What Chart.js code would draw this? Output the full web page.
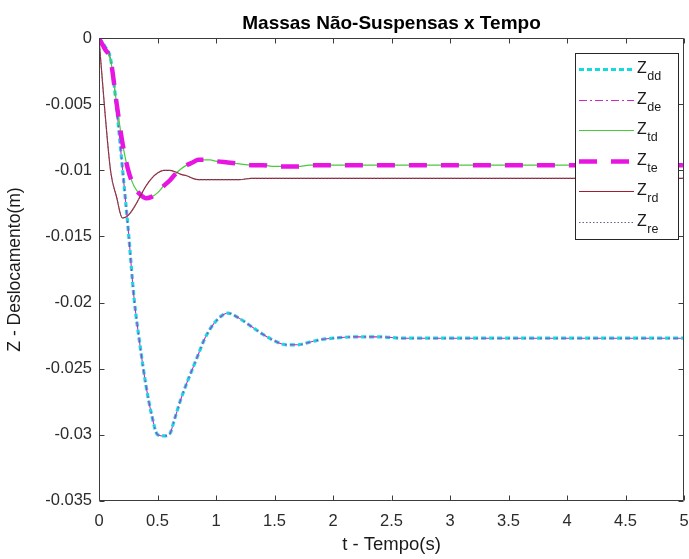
<!DOCTYPE html>
<html><head><meta charset="utf-8">
<script src="https://cdn.jsdelivr.net/npm/chart.js@4.4.1/dist/chart.umd.min.js"></script>
<style>html,body{margin:0;padding:0;background:#fff}canvas{display:block}</style>
</head><body>
<canvas id="c" width="689" height="559"></canvas>
<script>
// ---- text ----
const chartTitle = 'Massas Não-Suspensas x Tempo';
const xAxisLabel = 't - Tempo(s)';
const yAxisLabel = 'Z - Deslocamento(m)';
const legendMain = 'Z';
const legendSubs = ['dd', 'de', 'td', 'te', 'rd', 're'];

// ---- data ----
const time = [0, 0.05, 0.1, 0.15, 0.2, 0.25, 0.3, 0.35, 0.4, 0.45, 0.5, 0.55, 0.6, 0.65, 0.7, 0.75, 0.8, 0.85, 0.9, 0.95, 1.0,
  1.1, 1.2, 1.3, 1.4, 1.5, 1.6, 1.7, 1.8, 1.9, 2.0, 2.2, 2.4, 2.6, 2.8, 3.0, 3.5, 4.0, 4.5, 5.0];
const zdd = [0, -0.0006, -0.0016, -0.0052, -0.0098, -0.0145, -0.0197, -0.0232, -0.0262, -0.0285, -0.0300, -0.0301, -0.0300, -0.0287, -0.0273, -0.0261, -0.0250, -0.0239, -0.0228, -0.0220, -0.0214,
  -0.0208, -0.0212, -0.0218, -0.0224, -0.0229, -0.0232, -0.0232, -0.0230, -0.0228, -0.0227, -0.0226, -0.0226, -0.0227, -0.0227, -0.0227, -0.0227, -0.0227, -0.0227, -0.0227];
const zde = [0, -0.0006, -0.0016, -0.0052, -0.0098, -0.0145, -0.0197, -0.0232, -0.0262, -0.0285, -0.0300, -0.0301, -0.0300, -0.0287, -0.0273, -0.0261, -0.0250, -0.0239, -0.0228, -0.0220, -0.0214,
  -0.0208, -0.0212, -0.0218, -0.0224, -0.0229, -0.0232, -0.0232, -0.0230, -0.0228, -0.0227, -0.0226, -0.0226, -0.0227, -0.0227, -0.0227, -0.0227, -0.0227, -0.0227, -0.0227];
const ztd = [0, -0.0008, -0.0017, -0.0049, -0.0079, -0.0100, -0.0112, -0.0118, -0.0121, -0.0120, -0.0117, -0.0112, -0.0108, -0.0103, -0.0099, -0.0096, -0.0094, -0.0092, -0.0092, -0.0092, -0.0093,
  -0.0094, -0.0095, -0.0096, -0.0096, -0.0097, -0.0097, -0.0097, -0.0096, -0.0096, -0.0096, -0.0096, -0.0096, -0.0096, -0.0096, -0.0096, -0.0096, -0.0096, -0.0096, -0.0096];
const zte = [0, -0.0008, -0.0017, -0.0049, -0.0079, -0.0100, -0.0112, -0.0118, -0.0121, -0.0120, -0.0117, -0.0112, -0.0108, -0.0103, -0.0099, -0.0096, -0.0094, -0.0092, -0.0092, -0.0092, -0.0093,
  -0.0094, -0.0095, -0.0096, -0.0096, -0.0097, -0.0097, -0.0097, -0.0096, -0.0096, -0.0096, -0.0096, -0.0096, -0.0096, -0.0096, -0.0096, -0.0096, -0.0096, -0.0096, -0.0096];
const zrd = [0, -0.0055, -0.0101, -0.0120, -0.0136, -0.0134, -0.0128, -0.0120, -0.0112, -0.0106, -0.0102, -0.0100, -0.0100, -0.0101, -0.0103, -0.0104, -0.0106, -0.0107, -0.0107, -0.0107, -0.0107,
  -0.0107, -0.0107, -0.0106, -0.0106, -0.0106, -0.0106, -0.0106, -0.0106, -0.0106, -0.0106, -0.0106, -0.0106, -0.0106, -0.0106, -0.0106, -0.0106, -0.0106, -0.0106, -0.0106];
const zre = [0, -0.0055, -0.0101, -0.0120, -0.0136, -0.0134, -0.0128, -0.0120, -0.0112, -0.0106, -0.0102, -0.0100, -0.0100, -0.0101, -0.0103, -0.0104, -0.0106, -0.0107, -0.0107, -0.0107, -0.0107,
  -0.0107, -0.0107, -0.0106, -0.0106, -0.0106, -0.0106, -0.0106, -0.0106, -0.0106, -0.0106, -0.0106, -0.0106, -0.0106, -0.0106, -0.0106, -0.0106, -0.0106, -0.0106, -0.0106];

// ---- ticks ----
const xTickValues = [0, 0.5, 1, 1.5, 2, 2.5, 3, 3.5, 4, 4.5, 5];
const xTickLabels = ['0', '0.5', '1', '1.5', '2', '2.5', '3', '3.5', '4', '4.5', '5'];
const yTickValues = [0, -0.005, -0.01, -0.015, -0.02, -0.025, -0.03, -0.035];
const yTickLabels = ['0', '-0.005', '-0.01', '-0.015', '-0.02', '-0.025', '-0.03', '-0.035'];

const FONT = "'Liberation Sans', Arial, Helvetica, sans-serif";
const pts = arr => time.map((t, i) => ({ x: t, y: arr[i] }));

const styles = [
  { color: 'rgb(20,218,224)', width: 3.2, dash: [5, 3] },
  { color: 'rgb(200,40,200)', width: 1.1, dash: [8, 3, 2, 3] },
  { color: 'rgb(70,205,60)', width: 1.2, dash: [] },
  { color: 'rgb(232,20,226)', width: 4.5, dash: [18, 14] },
  { color: 'rgb(160,30,45)', width: 1.2, dash: [] },
  { color: 'rgb(100,100,130)', width: 1, dash: [1.5, 2] }
];
const seriesData = [zdd, zde, ztd, zte, zrd, zre];

const datasets = seriesData.map((arr, i) => ({
  label: legendMain + legendSubs[i],
  data: pts(arr),
  borderColor: styles[i].color,
  borderWidth: styles[i].width,
  borderDash: styles[i].dash,
  borderCapStyle: 'butt',
  pointRadius: 0,
  fill: false,
  cubicInterpolationMode: 'monotone',
  order: -i
}));

const axesBox = {
  id: 'axesBox',
  afterDatasetsDraw(chart) {
    const { ctx, chartArea: a, scales: { x, y } } = chart;
    ctx.save();
    ctx.strokeStyle = '#3c3c3c';
    ctx.lineWidth = 1;
    ctx.setLineDash([]);
    const L = Math.round(a.left) + 0.5, R = Math.round(a.right) - 0.5;
    const T = Math.round(a.top) + 0.5, B = Math.round(a.bottom) - 0.5;
    ctx.beginPath();
    ctx.rect(L, T, R - L, B - T);
    const tl = 5;
    x.ticks.forEach(t => {
      const px = Math.round(x.getPixelForValue(t.value)) + 0.5;
      ctx.moveTo(px, B); ctx.lineTo(px, B - tl);
      ctx.moveTo(px, T); ctx.lineTo(px, T + tl);
    });
    y.ticks.forEach(t => {
      const py = Math.round(y.getPixelForValue(t.value)) + 0.5;
      ctx.moveTo(L, py); ctx.lineTo(L + tl, py);
      ctx.moveTo(R, py); ctx.lineTo(R - tl, py);
    });
    ctx.stroke();
    ctx.restore();
  }
};

const legendBox = {
  id: 'legendBox',
  afterDraw(chart) {
    const { ctx, chartArea: a } = chart;
    const w = 103, h = 186;
    const right = Math.round(a.right) - 6, left = right - w, top = Math.round(a.top) + 15;
    ctx.save();
    ctx.fillStyle = '#fff';
    ctx.fillRect(left, top, w, h);
    ctx.strokeStyle = '#262626';
    ctx.lineWidth = 1;
    ctx.setLineDash([]);
    ctx.strokeRect(left + 0.5, top + 0.5, w, h);
    chart.data.datasets.forEach((ds, i) => {
      const yy = Math.round(top + 16 + i * 30.5) + 0.5;
      ctx.save();
      ctx.beginPath();
      ctx.strokeStyle = ds.borderColor;
      ctx.lineWidth = ds.borderWidth;
      ctx.lineCap = 'butt';
      ctx.setLineDash(ds.borderDash || []);
      ctx.moveTo(left + 4, yy);
      ctx.lineTo(left + 59, yy);
      ctx.stroke();
      ctx.restore();
      ctx.fillStyle = '#1a1a1a';
      ctx.textBaseline = 'middle';
      ctx.textAlign = 'left';
      ctx.font = '16px ' + FONT;
      ctx.fillText(legendMain, left + 62, yy - 1);
      const zw = ctx.measureText(legendMain).width;
      ctx.font = '12.5px ' + FONT;
      ctx.fillText(legendSubs[i], left + 62 + zw + 0.5, yy + 7);
    });
    ctx.restore();
  }
};

const noSidePad = s => { s.paddingLeft = 0; s.paddingRight = 0; };

new Chart(document.getElementById('c'), {
  type: 'line',
  data: { datasets },
  plugins: [axesBox, legendBox],
  options: {
    responsive: false,
    animation: false,
    events: [],
    layout: { padding: { left: 0, right: 5, top: 0, bottom: 0 } },
    plugins: { legend: { display: false }, tooltip: { enabled: false }, title: { display: false } },
    scales: {
      x: {
        type: 'linear', position: 'bottom', min: 0, max: 5,
        grid: { display: false, drawTicks: false },
        border: { display: false },
        afterBuildTicks: s => { s.ticks = xTickValues.map(v => ({ value: v })); },
        ticks: {
          autoSkip: false, maxRotation: 0, padding: 11, color: '#2b2b2b',
          font: { size: 16.5, family: FONT },
          callback: v => xTickLabels[xTickValues.indexOf(v)]
        },
        title: { display: true, text: xAxisLabel, color: '#1a1a1a', font: { size: 18.5, family: FONT }, padding: { top: 0, bottom: 3 } },
        afterFit: s => { s.height = 58.3; noSidePad(s); }
      },
      x2: {
        type: 'linear', position: 'top', min: 0, max: 5,
        grid: { display: false, drawTicks: false },
        border: { display: false },
        ticks: { display: false },
        title: { display: true, text: chartTitle, color: '#000', font: { size: 19, weight: 'bold', family: FONT }, padding: { top: 12, bottom: 0 } },
        afterFit: s => { s.height = 38.3; noSidePad(s); }
      },
      y: {
        type: 'linear', position: 'left', min: -0.035, max: 0,
        grid: { display: false, drawTicks: false },
        border: { display: false },
        afterBuildTicks: s => { s.ticks = yTickValues.slice().reverse().map(v => ({ value: v })); },
        ticks: {
          autoSkip: false, padding: 7, color: '#2b2b2b',
          font: { size: 16.5, family: FONT },
          callback: v => yTickLabels[yTickValues.indexOf(v)]
        },
        title: { display: true, text: yAxisLabel, color: '#1a1a1a', font: { size: 17.5, family: FONT }, padding: { top: 4.5, bottom: 0 } },
        afterFit: s => { s.width = 99; s.paddingTop = 0; s.paddingBottom = 0; }
      }
    }
  }
});
</script>
</body></html>
